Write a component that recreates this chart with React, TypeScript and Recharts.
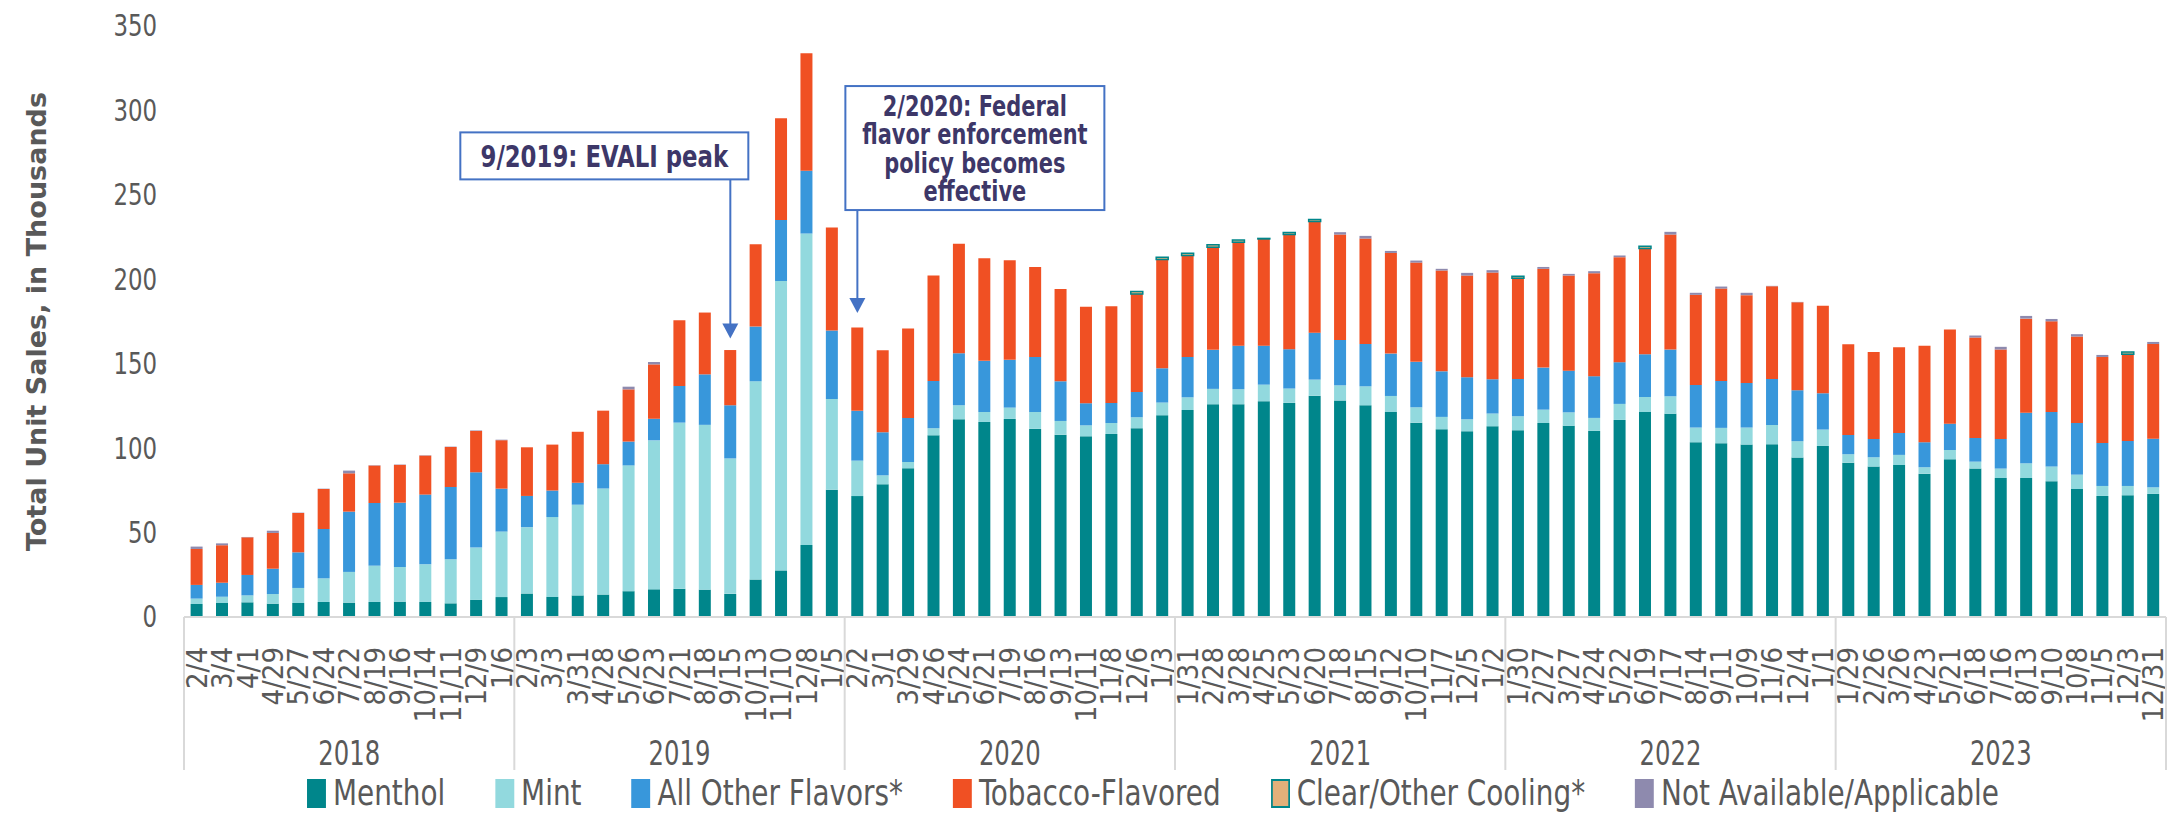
import React from 'react';
import {
  BarChart,
  Bar,
  XAxis,
  YAxis,
  Legend,
  ReferenceDot,
  Label,
} from 'recharts';

// four-week periods, grouped 13 per year
const years = ['2018', '2019', '2020', '2021', '2022', '2023'];

const periodLabels = [
  '2/4', '3/4', '4/1', '4/29', '5/27', '6/24', '7/22', '8/19', '9/16', '10/14', '11/11', '12/9', '1/6',
  '2/3', '3/3', '3/31', '4/28', '5/26', '6/23', '7/21', '8/18', '9/15', '10/13', '11/10', '12/8', '1/5',
  '2/2', '3/1', '3/29', '4/26', '5/24', '6/21', '7/19', '8/16', '9/13', '10/11', '11/8', '12/6', '1/3',
  '1/31', '2/28', '3/28', '4/25', '5/23', '6/20', '7/18', '8/15', '9/12', '10/10', '11/7', '12/5', '1/2',
  '1/30', '2/27', '3/27', '4/24', '5/22', '6/19', '7/17', '8/14', '9/11', '10/9', '11/6', '12/4', '1/1',
  '1/29', '2/26', '3/26', '4/23', '5/21', '6/18', '7/16', '8/13', '9/10', '10/8', '11/5', '12/3', '12/31',
];

const menthol = [
  7.7, 8.3, 8.7, 7.9, 8.3, 8.9, 8.5, 8.9, 9.1, 8.9, 8.1, 10.1, 11.8,
  13.9, 11.9, 12.8, 13.3, 15.3, 16.4, 16.7, 16.2, 13.7, 22.2, 27.6, 42.7, 75.4,
  71.6, 78.6, 88.1, 107.6, 117.1, 115.5, 117.3, 111.4, 108.0, 107.0, 108.4, 111.8, 119.5,
  122.6, 126.0, 126.0, 127.8, 126.8, 131.1, 128.2, 125.4, 121.4, 115.1, 111.2, 110.0, 113.0,
  110.6, 114.9, 113.2, 110.2, 116.7, 121.4, 120.3, 103.5, 102.9, 102.1, 102.3, 94.4, 101.3,
  91.4, 89.1, 90.0, 84.9, 93.4, 87.9, 82.3, 82.3, 80.4, 75.8, 71.7, 72.1, 72.9,
];

const mint = [
  3.2, 3.7, 4.1, 5.7, 8.9, 14.0, 18.2, 21.5, 20.5, 22.3, 26.1, 31.0, 38.8,
  39.3, 47.3, 53.7, 62.8, 74.5, 88.2, 98.4, 97.6, 80.2, 117.4, 171.4, 184.4, 53.7,
  21.0, 5.3, 3.7, 4.2, 8.3, 5.9, 6.7, 10.0, 8.1, 6.5, 6.5, 6.5, 7.5,
  7.5, 9.1, 8.9, 9.8, 8.5, 9.5, 9.0, 11.2, 9.5, 9.1, 7.3, 7.1, 7.5,
  8.3, 7.9, 8.0, 7.7, 9.5, 8.9, 10.4, 8.7, 9.1, 10.1, 11.4, 9.7, 9.7,
  5.0, 5.5, 6.0, 3.8, 5.5, 4.1, 5.6, 8.7, 8.7, 8.5, 5.9, 5.5, 3.9,
];

const otherFlavors = [
  8.1, 8.3, 12.1, 15.0, 21.1, 29.2, 35.7, 37.1, 38.1, 41.3, 42.8, 44.6, 25.4,
  18.5, 15.7, 13.0, 14.4, 14.1, 12.8, 21.7, 29.9, 31.5, 32.4, 36.1, 37.2, 40.6,
  29.5, 25.5, 26.1, 28.0, 30.8, 30.3, 28.3, 32.6, 23.5, 13.1, 11.9, 15.0, 20.3,
  23.9, 23.1, 25.8, 23.1, 23.3, 27.8, 26.9, 25.1, 25.1, 26.9, 27.0, 24.9, 20.3,
  22.1, 24.9, 24.7, 24.7, 24.7, 25.3, 27.7, 25.2, 27.8, 26.4, 27.3, 30.2, 21.5,
  11.4, 10.8, 13.0, 14.8, 15.6, 14.0, 17.5, 30.0, 32.3, 30.6, 25.5, 26.7, 28.8,
];

const tobacco = [
  21.3, 22.2, 22.3, 21.2, 23.3, 23.7, 22.7, 22.2, 22.4, 23.1, 23.7, 24.5, 28.7,
  28.8, 27.2, 30.2, 31.7, 30.9, 32.2, 38.9, 36.6, 32.7, 48.7, 60.3, 69.5, 61.0,
  49.4, 48.6, 52.9, 62.4, 64.8, 60.8, 59.0, 53.3, 54.7, 57.2, 57.2, 58.0, 64.4,
  60.1, 60.8, 61.3, 63.2, 67.9, 65.8, 62.4, 62.4, 59.6, 58.8, 59.7, 60.2, 63.2,
  59.6, 58.5, 56.3, 61.0, 62.2, 62.6, 68.1, 53.4, 54.7, 52.0, 54.9, 52.1, 51.9,
  53.7, 51.6, 50.8, 57.2, 55.7, 59.5, 53.0, 55.7, 53.7, 51.2, 50.9, 51.3, 56.1,
];

const clearCooling = [
  0, 0, 0, 0, 0, 0, 0, 0, 0, 0, 0, 0, 0,
  0, 0, 0, 0, 0, 0, 0, 0, 0, 0, 0, 0, 0,
  0, 0, 0, 0, 0, 0, 0, 0, 0, 0, 0, 1.4, 1.4,
  1.3, 1.4, 1.3, 0.3, 1.2, 1.2, 0, 0, 0, 0, 0, 0, 0,
  1.2, 0, 0, 0, 0, 1.4, 0, 0, 0, 0, 0, 0, 0,
  0, 0, 0, 0, 0, 0, 0, 0, 0, 0, 0, 1.4, 0,
];

const notAvailable = [
  1.4, 1.1, 0.2, 1.3, 0.2, 0.2, 1.6, 0.2, 0.2, 0.2, 0.2, 0.3, 0.3,
  0, 0, 0, 0, 1.6, 1.4, 0, 0, 0, 0, 0, 0, 0,
  0, 0, 0, 0, 0, 0, 0, 0, 0, 0, 0, 0, 0,
  0, 0, 0, 0, 0, 0, 1.4, 1.6, 1.2, 1.2, 1.0, 1.6, 1.4,
  0, 1.1, 1.0, 1.2, 1.0, 0, 1.6, 1.2, 1.2, 1.4, 0.2, 0.2, 0,
  0, 0, 0, 0, 0, 1.2, 1.6, 1.6, 1.4, 1.4, 1.2, 0, 1.2,
];

const yTicks = [0, 50, 100, 150, 200, 250, 300, 350];

const series = [
  { key: 'menthol', name: 'Menthol', color: '#00868B', values: menthol },
  { key: 'mint', name: 'Mint', color: '#92D9DE', values: mint },
  { key: 'other', name: 'All Other Flavors*', color: '#3897DB', values: otherFlavors },
  { key: 'tobacco', name: 'Tobacco-Flavored', color: '#F05023', values: tobacco },
  { key: 'clear', name: 'Clear/Other Cooling*', color: '#E3B07A', values: clearCooling, stroke: '#00868B' },
  { key: 'na', name: 'Not Available/Applicable', color: '#8E8AAE', values: notAvailable },
];

const PER_YEAR = 13;

const data = periodLabels.map((label, i) => {
  const row: Record<string, string | number> = {
    id: `${years[Math.floor(i / PER_YEAR)]}-${label}`,
    label,
  };
  series.forEach((s) => {
    row[s.key] = s.values[i];
  });
  return row;
});

// annotation callouts: anchor period and the value the arrow points at
const evaliNote = { id: '2019-9/15', tip: 165, lines: ['9/2019: EVALI peak'] };
const fdaNote = {
  id: '2020-2/2',
  tip: 180,
  lines: ['2/2020: Federal', 'flavor enforcement', 'policy becomes', 'effective'],
};

const FONT = "'DejaVu Sans Condensed', 'DejaVu Sans', sans-serif";
const GREY = '#595959';
const RULE = '#D9D9D9';
const NOTE_BLUE = '#4472C4';
const NOTE_TEXT = '#3D3768';
const SQUEEZE = 0.82; // the original lettering is narrow

// horizontal text squeezed sideways around its anchor point
const NarrowText = ({ x, y, sx = SQUEEZE, children, ...rest }: any) => (
  <text transform={`translate(${x},${y}) scale(${sx},1)`} x={0} y={0} {...rest}>
    {children}
  </text>
);

const DateTick = (props: any) => {
  const { x, y, payload, index } = props;
  const half = payload && payload.offset ? payload.offset : 12.7;
  const showYear = index % PER_YEAR === 6;
  const startYear = index % PER_YEAR === 0;
  const last = index === periodLabels.length - 1;
  return (
    <g>
      <text
        transform={`translate(${x},${y + 30}) rotate(-90)`}
        textAnchor="end"
        dominantBaseline="central"
        fontFamily={FONT}
        fontSize={29}
        fill={GREY}
      >
        {periodLabels[index]}
      </text>
      {startYear && (
        <line x1={x - half} x2={x - half} y1={y} y2={y + 153} stroke={RULE} strokeWidth={2} />
      )}
      {last && (
        <line x1={x + half} x2={x + half} y1={y} y2={y + 153} stroke={RULE} strokeWidth={2} />
      )}
      {showYear && (
        <NarrowText
          x={x}
          y={y + 137}
          textAnchor="middle"
          dominantBaseline="central"
          fontFamily={FONT}
          fontSize={33}
          fill={GREY}
        >
          {years[Math.floor(index / PER_YEAR)]}
        </NarrowText>
      )}
    </g>
  );
};

const ValueTick = (props: any) => {
  const { x, y, payload } = props;
  return (
    <NarrowText
      x={x}
      y={y}
      textAnchor="end"
      dominantBaseline="central"
      fontFamily={FONT}
      fontSize={31}
      fill={GREY}
    >
      {payload.value}
    </NarrowText>
  );
};

const Arrow = ({ cx, cy, from }: any) => (
  <g>
    <line x1={cx} x2={cx} y1={from} y2={cy - 14} stroke={NOTE_BLUE} strokeWidth={2} />
    <polygon points={`${cx - 8},${cy - 15} ${cx + 8},${cy - 15} ${cx},${cy}`} fill={NOTE_BLUE} />
  </g>
);

const EvaliShape = (props: any) => {
  const { cx, cy } = props;
  const left = cx - 270;
  const top = cy - 206;
  return (
    <g>
      <Arrow cx={cx} cy={cy} from={cy - 159} />
      <rect x={left} y={top} width={288} height={47} fill="#fff" stroke={NOTE_BLUE} strokeWidth={2} />
      <NarrowText
        x={left + 144}
        y={top + 24}
        textAnchor="middle"
        dominantBaseline="central"
        fontFamily={FONT}
        fontWeight="bold"
        fontSize={31}
        fill={NOTE_TEXT}
      >
        {evaliNote.lines[0]}
      </NarrowText>
    </g>
  );
};

const FdaShape = (props: any) => {
  const { cx, cy } = props;
  const left = cx - 12;
  const top = cy - 227;
  return (
    <g>
      <Arrow cx={cx} cy={cy} from={cy - 103} />
      <rect x={left} y={top} width={259} height={124} fill="#fff" stroke={NOTE_BLUE} strokeWidth={2} />
      {fdaNote.lines.map((line, i) => (
        <NarrowText
          key={line}
          x={left + 129.5}
          y={top + 20 + i * 28.5}
          sx={0.83}
          textAnchor="middle"
          dominantBaseline="central"
          fontFamily={FONT}
          fontWeight="bold"
          fontSize={28}
          fill={NOTE_TEXT}
        >
          {line}
        </NarrowText>
      ))}
    </g>
  );
};

const LEG = 0.86;

const LegendRow = () => (
  <div
    style={{
      display: 'flex',
      alignItems: 'center',
      paddingLeft: 307 / LEG,
      height: 46,
      lineHeight: '40px',
      fontFamily: FONT,
      fontSize: 36,
      color: GREY,
      whiteSpace: 'nowrap',
      transform: `translateY(3px) scaleX(${LEG})`,
      transformOrigin: '0 50%',
    }}
  >
    {series.map((s) => (
      <div key={s.key} style={{ display: 'flex', alignItems: 'center', marginRight: 50 / LEG }}>
        <span
          style={{
            display: 'inline-block',
            boxSizing: 'border-box',
            width: 19 / LEG,
            height: 29,
            background: s.color,
            border: s.stroke ? `2px solid ${s.stroke}` : 'none',
            marginRight: 7 / LEG,
          }}
        />
        <span>{s.name}</span>
      </div>
    ))}
  </div>
);

export default function App() {
  return (
    <div style={{ width: 2170, height: 813, background: '#fff' }}>
      <style>{'body{margin:0}'}</style>
      <BarChart
        width={2170}
        height={813}
        data={data}
        margin={{ top: 26, right: 4, left: 0, bottom: 0 }}
        barCategoryGap="26%"
      >
        <XAxis
          dataKey="id"
          interval={0}
          height={150}
          tickLine={false}
          tickSize={0}
          tickMargin={0}
          axisLine={{ stroke: RULE, strokeWidth: 2 }}
          tick={<DateTick />}
        />
        <YAxis
          width={184}
          domain={[0, 350]}
          ticks={yTicks}
          axisLine={false}
          tickLine={false}
          tickSize={0}
          tickMargin={27}
          tick={<ValueTick />}
        >
          <Label
            content={(p: any) => {
              const vb = p.viewBox || {};
              const cy = (vb.y || 26) + (vb.height || 591) / 2;
              return (
                <text
                  transform={`translate(36,${cy}) rotate(-90)`}
                  textAnchor="middle"
                  dominantBaseline="central"
                  fontFamily="'DejaVu Sans', sans-serif"
                  fontWeight="bold"
                  fontSize={27}
                  fill={GREY}
                >
                  Total Unit Sales, in Thousands
                </text>
              );
            }}
          />
        </YAxis>
        {series.map((s) => (
          <Bar
            key={s.key}
            dataKey={s.key}
            name={s.name}
            stackId="sales"
            fill={s.color}
            stroke={s.stroke}
            strokeWidth={s.stroke ? 1.5 : 0}
            isAnimationActive={false}
          />
        ))}
        <ReferenceDot x={evaliNote.id} y={evaliNote.tip} r={0} shape={<EvaliShape />} />
        <ReferenceDot x={fdaNote.id} y={fdaNote.tip} r={0} shape={<FdaShape />} />
        <Legend
          verticalAlign="bottom"
          align="left"
          wrapperStyle={{ height: 46 }}
          content={() => <LegendRow />}
        />
      </BarChart>
    </div>
  );
}
